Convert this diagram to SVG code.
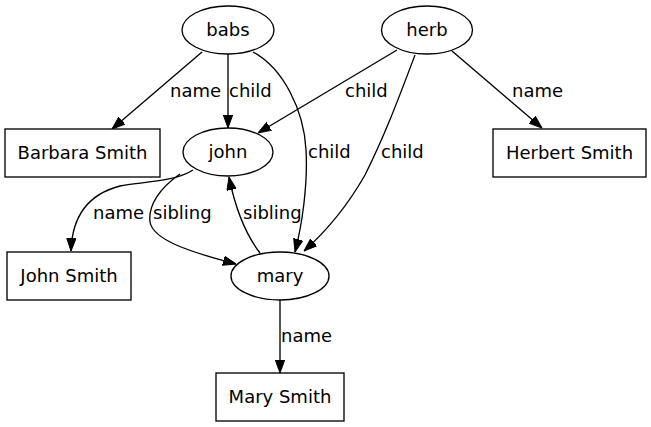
<svg xmlns="http://www.w3.org/2000/svg" width="651" height="427" viewBox="0 0 651 427">
<defs>
<marker id="arr" markerUnits="userSpaceOnUse" viewBox="0 0 13 10" refX="13" refY="5" markerWidth="13" markerHeight="10" orient="auto">
<path d="M0,0.3 L13,5 L0,9.7 z" fill="#000" stroke="#000" stroke-width="1"/>
</marker>
<style>
.n ellipse, .n rect { fill: #fff; stroke: #000; stroke-width: 1.33; }
text { font-family: "DejaVu Sans", sans-serif; font-size: 18px; fill: #000; }
.n text { text-anchor: middle; }
#edges path { fill: none; stroke: #000; stroke-width: 1.33; marker-end: url(#arr); }
</style>
</defs>
<rect width="651" height="427" fill="#fff"/>
<g id="edges">
<path d="M202,52 L112,129"/>
<path d="M228,54 L228,128"/>
<path d="M253,52 C283,68 304,110 306,150 C308,185 302,225 295,252"/>
<path d="M397,50 L258,133"/>
<path d="M415,55 C398,100 385,135 365,175 C345,210 322,235 304,251"/>
<path d="M452,51 L542,128"/>
<path d="M193,170 C175,182 140,182 120,186 C85,195 72,220 71,251"/>
<path d="M180,174 C160,188 148,205 150,222 C153,240 190,252 236,264"/>
<path d="M260,253 C247,236 236,212 229,177"/>
<path d="M280,300 L280,373"/>
<text x="170" y="97">name</text>
<text x="229" y="97">child</text>
<text x="308" y="158">child</text>
<text x="345" y="97">child</text>
<text x="381" y="158">child</text>
<text x="512" y="97">name</text>
<text x="93" y="219">name</text>
<text x="153" y="219">sibling</text>
<text x="243" y="219">sibling</text>
<text x="281" y="342">name</text>
</g>
<g id="babs" class="n"><ellipse cx="228" cy="30" rx="46" ry="24"/><text x="228" y="36">babs</text></g>
<g id="herb" class="n"><ellipse cx="427" cy="30" rx="45.5" ry="24"/><text x="427" y="36">herb</text></g>
<g id="john" class="n"><ellipse cx="228" cy="152" rx="45" ry="24"/><text x="228" y="158">john</text></g>
<g id="mary" class="n"><ellipse cx="280" cy="276" rx="49" ry="24"/><text x="280" y="282">mary</text></g>
<g id="barbara" class="n"><rect x="5" y="129" width="155" height="48"/><text x="82.5" y="159">Barbara Smith</text></g>
<g id="herbert" class="n"><rect x="493" y="129" width="153" height="48"/><text x="569.5" y="159">Herbert Smith</text></g>
<g id="johnsmith" class="n"><rect x="7" y="252" width="124" height="48"/><text x="69" y="282">John Smith</text></g>
<g id="marysmith" class="n"><rect x="216" y="373" width="128" height="48"/><text x="280" y="403">Mary Smith</text></g>
</svg>
